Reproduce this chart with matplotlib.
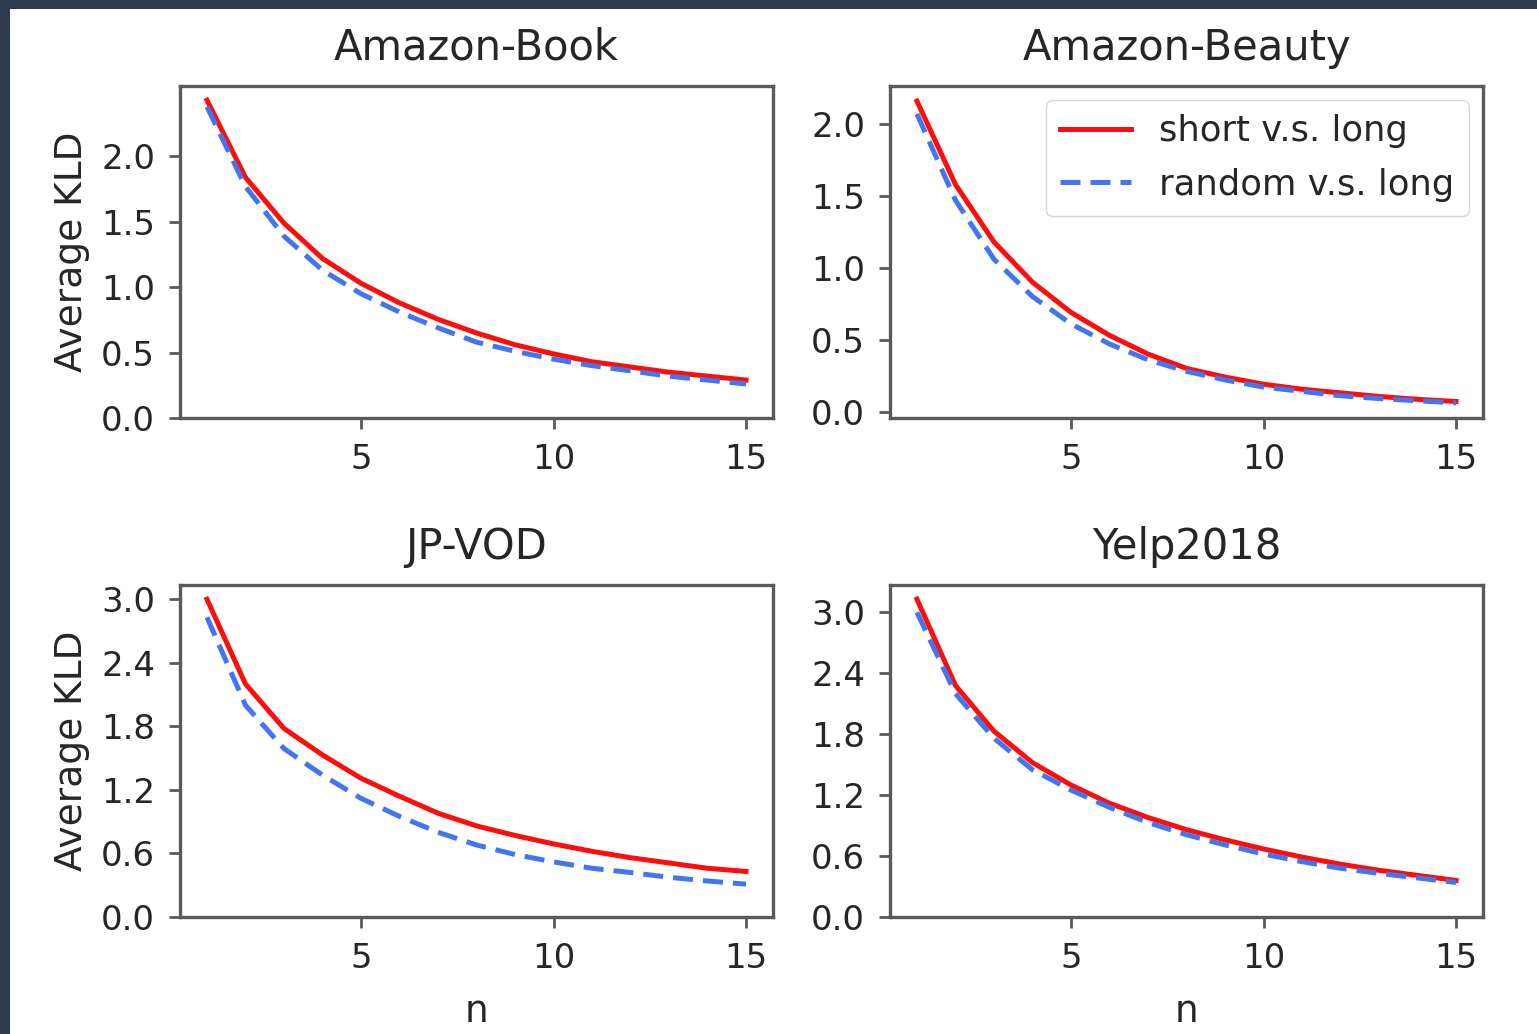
import numpy as np
from matplotlib import pyplot as plt
from matplotlib.patches import Rectangle
from matplotlib.ticker import FormatStrFormatter

n = np.arange(1, 16)

titles = ['Amazon-Book', 'Amazon-Beauty', 'JP-VOD', 'Yelp2018']

book_short = [2.43, 1.84, 1.49, 1.22, 1.03, 0.88, 0.755, 0.65, 0.56, 0.49, 0.43, 0.39, 0.35, 0.32, 0.29]
book_random = [2.38, 1.77, 1.39, 1.13, 0.95, 0.81, 0.69, 0.58, 0.51, 0.45, 0.40, 0.36, 0.32, 0.29, 0.26]

beauty_short = [2.16, 1.58, 1.18, 0.90, 0.69, 0.53, 0.40, 0.30, 0.24, 0.19, 0.155, 0.13, 0.105, 0.085, 0.07]
beauty_random = [2.07, 1.47, 1.06, 0.80, 0.61, 0.47, 0.36, 0.28, 0.22, 0.17, 0.14, 0.11, 0.09, 0.075, 0.06]

vod_short = [3.00, 2.20, 1.78, 1.53, 1.31, 1.14, 0.98, 0.86, 0.77, 0.69, 0.62, 0.56, 0.51, 0.46, 0.43]
vod_random = [2.83, 2.00, 1.59, 1.34, 1.12, 0.95, 0.80, 0.68, 0.59, 0.52, 0.46, 0.42, 0.375, 0.34, 0.31]

yelp_short = [3.13, 2.28, 1.83, 1.52, 1.30, 1.12, 0.98, 0.86, 0.76, 0.67, 0.59, 0.52, 0.46, 0.41, 0.36]
yelp_random = [3.00, 2.20, 1.76, 1.45, 1.25, 1.08, 0.93, 0.81, 0.71, 0.62, 0.545, 0.48, 0.43, 0.385, 0.34]

short_series = [book_short, beauty_short, vod_short, yelp_short]
random_series = [book_random, beauty_random, vod_random, yelp_random]

W, H = 1537, 1034
fig = plt.figure(figsize=(W / 100, H / 100), dpi=100)
fig.patch.set_facecolor('#2b3a4c')
fig.add_artist(Rectangle((10 / W, 0), 1 - 10 / W, 1 - 9 / H, transform=fig.transFigure,
                         facecolor='white', edgecolor='none', zorder=-1))

txt = '#262626'
lefts = [180, 890, 180, 890]
tops = [86, 86, 585, 585]
aw, ah = 593, 332

for i in range(4):
    ax = fig.add_axes([lefts[i] / W, (H - tops[i] - ah) / H, aw / W, ah / H])
    ax.plot(n, short_series[i], color='#ff0d0d', lw=3.6, label='short v.s. long')
    ax.plot(n, random_series[i], color='#4275f0', lw=3.6, ls=(0, (4.0, 2.0)), label='random v.s. long')
    ax.set_title(titles[i], fontsize=30, color=txt, pad=19)
    for s in ax.spines.values():
        s.set_linewidth(2.4)
        s.set_color('#5a5a5a')
    ax.tick_params(labelsize=24.5, length=8, width=2, color='#5a5a5a', labelcolor=txt, pad=10)
    ax.set_xticks([5, 10, 15])
    if i != 1:
        ax.set_ylim(bottom=0)
    if i >= 2:
        ax.set_yticks(np.arange(0, 3.01, 0.6))
        ax.set_xlabel('n', fontsize=27, color=txt, labelpad=14)
    else:
        ax.set_yticks(np.arange(0, 2.01, 0.5))
    ax.yaxis.set_major_formatter(FormatStrFormatter('%.1f'))
    if i % 2 == 0:
        ax.set_ylabel('Average KLD', fontsize=27, color=txt, labelpad=8)
    if i == 1:
        ax.legend(loc='upper right', fontsize=25.5, handlelength=2.0, labelcolor=txt,
                  borderaxespad=0.4, labelspacing=0.55)

fig.savefig('out.png', dpi=100, facecolor=fig.get_facecolor())
